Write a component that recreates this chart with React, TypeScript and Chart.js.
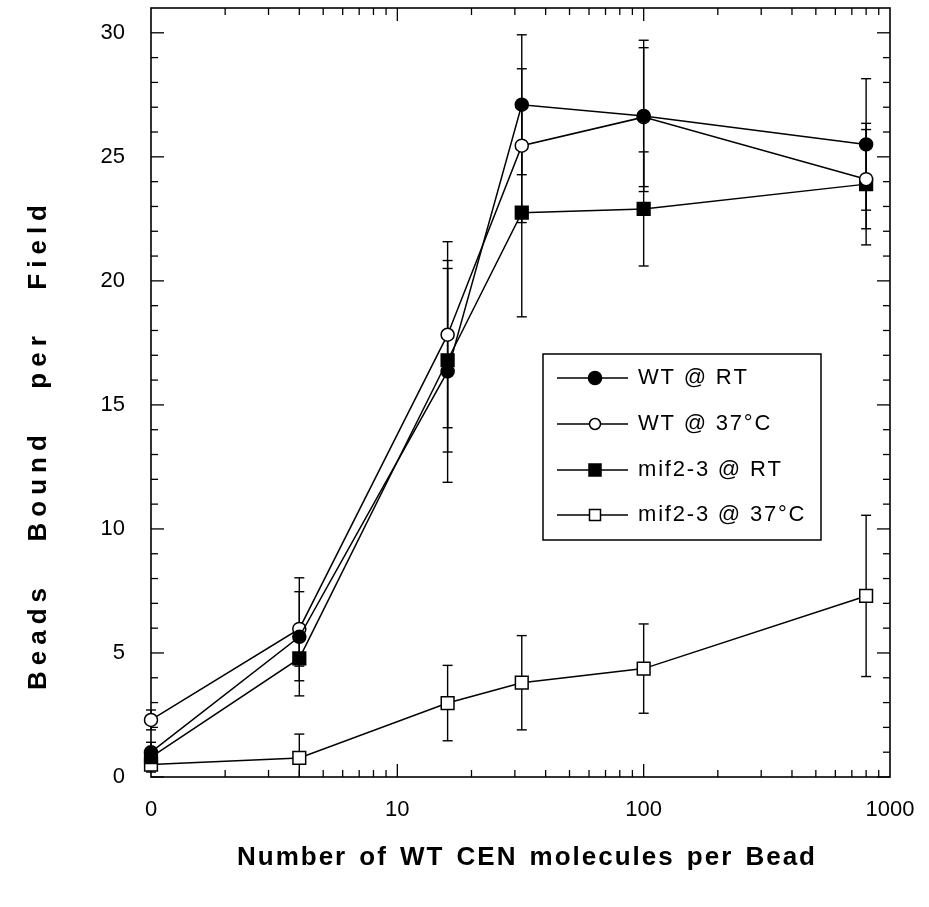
import React, { useEffect, useRef } from 'react';
import { Chart, registerables } from 'chart.js';

Chart.register(...registerables);

// ---- data ----
const xValues = [1, 4, 16, 32, 100, 800];
const xTickValues = [1, 10, 100, 1000];
const xTickLabels = ['0', '10', '100', '1000'];
const yTickValues = [0, 5, 10, 15, 20, 25, 30];

const seriesLabels = ['WT @ RT', 'WT @ 37°C', 'mif2-3 @ RT', 'mif2-3 @ 37°C'];

const wtRT = [1.0, 5.65, 16.35, 27.1, 26.65, 25.5];
const wtRTErr = [0.4, 2.38, 4.47, 2.82, 3.05, 2.65];
const wt37 = [2.3, 5.97, 17.83, 25.45, 26.6, 24.1];
const wt37Err = [0.4, 1.5, 3.75, 3.1, 2.8, 2.0];
const mifRT = [0.8, 4.78, 16.8, 22.75, 22.9, 23.9];
const mifRTErr = [0.3, 0.9, 3.7, 4.2, 2.3, 2.45];
const mif37 = [0.5, 0.77, 2.98, 3.8, 4.37, 7.3];
const mif37Err = [0.3, 0.96, 1.52, 1.9, 1.8, 3.25];

const xTitle = 'Number of WT CEN molecules per Bead';
const yTitle = 'Beads Bound per Field';

const FONT = '"Liberation Sans", Arial, Helvetica, sans-serif';

const series = [
  { label: seriesLabels[0], values: wtRT, errors: wtRTErr, shape: 'circle', filled: true },
  { label: seriesLabels[1], values: wt37, errors: wt37Err, shape: 'circle', filled: false },
  { label: seriesLabels[2], values: mifRT, errors: mifRTErr, shape: 'rect', filled: true },
  { label: seriesLabels[3], values: mif37, errors: mif37Err, shape: 'rect', filled: false },
];

function drawSpaced(ctx: CanvasRenderingContext2D, text: string, x0: number, y0: number, target: number, ls: number) {
  const words = text.split(' ');
  const widths = words.map((w) => {
    let s = 0;
    for (const ch of w) s += ctx.measureText(ch).width;
    return s + ls * (w.length - 1);
  });
  const total = widths.reduce((a, b) => a + b, 0);
  const gap = words.length > 1 ? (target - total) / (words.length - 1) : 0;
  let x = x0;
  words.forEach((w, i) => {
    for (const ch of w) {
      ctx.fillText(ch, x, y0);
      x += ctx.measureText(ch).width + ls;
    }
    x -= ls;
    if (i < words.length - 1) x += gap;
  });
}

function drawMarker(ctx: CanvasRenderingContext2D, shape: string, filled: boolean, x: number, y: number, size: number) {
  ctx.beginPath();
  if (shape === 'circle') ctx.arc(x, y, size, 0, Math.PI * 2);
  else ctx.rect(x - size, y - size, size * 2, size * 2);
  ctx.fillStyle = filled ? '#000' : '#fff';
  ctx.fill();
  ctx.lineWidth = 1.5;
  ctx.strokeStyle = '#000';
  ctx.stroke();
}

const framePlugin = {
  id: 'frameAndErrors',
  beforeDatasetsDraw(chart: any) {
    const { ctx, chartArea, scales } = chart;
    const { left, right, top, bottom } = chartArea;
    const xs = scales.x;
    const ys = scales.y;
    ctx.save();
    ctx.strokeStyle = '#000';
    ctx.lineWidth = 1.6;
    ctx.strokeRect(left, top, right - left, bottom - top);

    ctx.lineWidth = 1.3;
    const seg = (x1: number, y1: number, x2: number, y2: number) => {
      ctx.beginPath();
      ctx.moveTo(x1, y1);
      ctx.lineTo(x2, y2);
      ctx.stroke();
    };
    // y ticks (inside, mirrored)
    for (let v = 0; v <= 30; v++) {
      const py = ys.getPixelForValue(v);
      const len = v % 5 === 0 ? 13 : 7;
      seg(left, py, left + len, py);
      seg(right, py, right - len, py);
    }
    // x ticks (log, inside, mirrored)
    for (const d of [1, 10, 100]) {
      for (let m = 2; m <= 10; m++) {
        const v = d * m;
        if (v >= 1000) continue;
        const px = xs.getPixelForValue(v);
        const len = m === 10 ? 13 : 7;
        seg(px, bottom, px, bottom - len);
        seg(px, top, px, top + len);
      }
    }

    // error bars
    ctx.save();
    ctx.beginPath();
    ctx.rect(left - 10, top, right - left + 20, bottom - top);
    ctx.clip();
    ctx.lineWidth = 1.4;
    const cap = 5;
    series.forEach((s) => {
      xValues.forEach((xv, i) => {
        const px = xs.getPixelForValue(xv);
        const yt = ys.getPixelForValue(s.values[i] + s.errors[i]);
        const yb = ys.getPixelForValue(s.values[i] - s.errors[i]);
        seg(px, yt, px, yb);
        seg(px - cap, yt, px + cap, yt);
        seg(px - cap, yb, px + cap, yb);
      });
    });
    ctx.restore();
    ctx.restore();
  },
  afterDraw(chart: any) {
    const { ctx } = chart;
    ctx.save();
    ctx.fillStyle = '#000';
    // x title
    ctx.font = `bold 26px ${FONT}`;
    ctx.textBaseline = 'middle';
    ctx.textAlign = 'left';
    drawSpaced(ctx, xTitle, 237, 858, 578, 2);
    // y title
    ctx.save();
    ctx.translate(39, 690);
    ctx.rotate(-Math.PI / 2);
    drawSpaced(ctx, yTitle, 0, 0, 485, 6);
    ctx.restore();

    // legend
    const bx = 543, by = 354, bw = 278, bh = 186;
    ctx.fillStyle = '#fff';
    ctx.fillRect(bx, by, bw, bh);
    ctx.strokeStyle = '#000';
    ctx.lineWidth = 1.5;
    ctx.strokeRect(bx, by, bw, bh);
    const rows = [378, 424, 470, 515];
    ctx.font = `22px ${FONT}`;
    series.forEach((s, i) => {
      const y = rows[i];
      ctx.strokeStyle = '#000';
      ctx.lineWidth = 1.5;
      ctx.beginPath();
      ctx.moveTo(557, y);
      ctx.lineTo(628, y);
      ctx.stroke();
      const size = s.shape === 'circle' ? (s.filled ? 6.5 : 5.5) : (s.filled ? 6 : 5.5);
      drawMarker(ctx, s.shape, s.filled, 595, y, size);
      ctx.fillStyle = '#000';
      ctx.textBaseline = 'middle';
      let x = 638;
      for (const ch of s.label) {
        ctx.fillText(ch, x, y);
        x += ctx.measureText(ch).width + 1.8;
      }
    });
    ctx.restore();
  },
};

export default function App() {
  const ref = useRef<HTMLCanvasElement | null>(null);
  useEffect(() => {
    if (!ref.current) return;
    const chart = new Chart(ref.current, {
      type: 'line',
      data: {
        datasets: series.map((s) => ({
          label: s.label,
          data: xValues.map((x, i) => ({ x, y: s.values[i] })),
          borderColor: '#000',
          borderWidth: 1.5,
          pointStyle: s.shape === 'circle' ? 'circle' : 'rect',
          pointRadius: s.shape === 'circle' ? 6.5 : 9,
          pointHoverRadius: s.shape === 'circle' ? 6.5 : 9,
          pointBackgroundColor: s.filled ? '#000' : '#fff',
          pointBorderColor: '#000',
          pointBorderWidth: 1.5,
          fill: false,
          tension: 0,
          clip: false as any,
        })),
      },
      options: {
        animation: false,
        responsive: false,
        events: [],
        layout: { padding: { top: 8, right: 39, bottom: 0, left: 0 }, autoPadding: false } as any,
        plugins: { legend: { display: false }, tooltip: { enabled: false }, title: { display: false } },
        scales: {
          x: {
            type: 'logarithmic',
            min: 1,
            max: 1000,
            grid: { display: false, drawTicks: false },
            border: { display: false },
            afterBuildTicks: (scale: any) => {
              scale.ticks = xTickValues.map((v) => ({ value: v }));
            },
            afterFit: (scale: any) => {
              scale.height = 130;
              scale.paddingLeft = 0;
              scale.paddingRight = 0;
              scale.paddingTop = 0;
              scale.paddingBottom = 0;
            },
            ticks: {
              autoSkip: false,
              maxRotation: 0,
              padding: 20,
              color: '#000',
              font: { family: FONT, size: 22 },
              callback: (v: any) => {
                const idx = xTickValues.indexOf(Number(v));
                return idx >= 0 ? xTickLabels[idx] : '';
              },
            },
          },
          y: {
            type: 'linear',
            min: 0,
            max: 31,
            grid: { display: false, drawTicks: false },
            border: { display: false },
            afterBuildTicks: (scale: any) => {
              scale.ticks = yTickValues.map((v) => ({ value: v }));
            },
            afterFit: (scale: any) => {
              scale.width = 151;
              scale.paddingLeft = 0;
              scale.paddingRight = 0;
              scale.paddingTop = 0;
              scale.paddingBottom = 0;
            },
            ticks: {
              autoSkip: false,
              padding: 26,
              color: '#000',
              font: { family: FONT, size: 22 },
              callback: (v: any) => String(v),
            },
          },
        },
      } as any,
      plugins: [framePlugin as any],
    });
    return () => chart.destroy();
  }, []);
  return (
    <div style={{ position: 'absolute', left: 0, top: 0, width: 929, height: 907, background: '#fff' }}>
      <canvas ref={ref} width={929} height={907} style={{ display: 'block' }} />
    </div>
  );
}
